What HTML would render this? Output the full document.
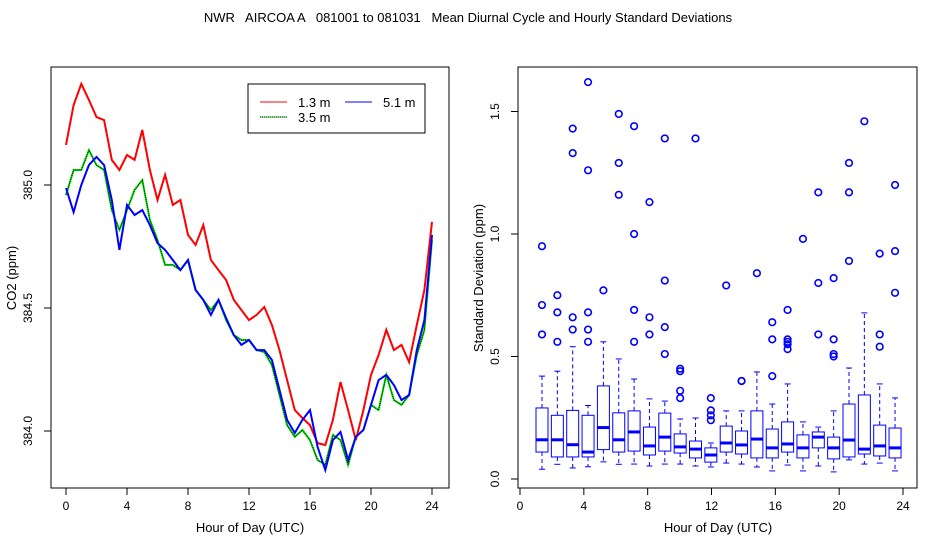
<!DOCTYPE html>
<html><head><meta charset="utf-8"><style>
body{margin:0;background:#fff}
svg{display:block;font-family:"Liberation Sans",sans-serif}
</style></head><body>
<svg id="c" width="936" height="540" viewBox="0 0 936 540">
<text x="468" y="22" font-size="13" text-anchor="middle" style="white-space:pre" xml:space="preserve">NWR   AIRCOA A   081001 to 081031   Mean Diurnal Cycle and Hourly Standard Deviations</text>
<rect x="51" y="67" width="398" height="421" fill="none" stroke="#000"/>
<rect x="518" y="67" width="399" height="421" fill="none" stroke="#000"/>
<g id="L"></g><g id="R"></g>
<g>
<rect x="248" y="84" width="177" height="49" fill="#fff" stroke="#000"/>
<line x1="260" y1="102" x2="287" y2="102" stroke="#f00"/>
<text x="298" y="107" font-size="13">1.3 m</text>
<line x1="345" y1="102" x2="372" y2="102" stroke="#00f"/>
<text x="383" y="107" font-size="13">5.1 m</text>
<line x1="260" y1="117" x2="287" y2="117" stroke="#0e0"/>
<line x1="260" y1="117" x2="287" y2="117" stroke="#000" stroke-dasharray="1,1"/>
<text x="298" y="122" font-size="13">3.5 m</text>
</g>
</svg>
<script>
const hours=[0,0.5,1,1.5,2,2.5,3,3.5,4,4.5,5,5.5,6,6.5,7,7.5,8,8.5,9,9.5,10,10.5,11,11.5,12,12.5,13,13.5,14,14.5,15,15.5,16,16.5,17,17.5,18,18.5,19,19.5,20,20.5,21,21.5,22,22.5,23,23.5,24];
const redPx=[145,105,84,100,117,120,160,170,155,160,130,170,200,175,205,200,235,245,225,260,270,280,300,310,320,315,307,325,350,380,410,418,425,443,445,420,382,410,440,410,375,355,330,350,345,362,325,290,222];
const bluePx=[188,212,185,165,157,165,200,250,205,215,210,225,243,250,260,270,260,290,300,315,300,318,335,345,340,350,350,360,390,420,433,420,410,447,470,440,432,460,437,430,405,380,375,385,400,395,350,320,235];
const greenPx=[195,170,170,150,165,170,210,230,210,190,180,220,240,265,265,270,260,290,300,310,300,320,335,340,340,350,352,365,395,425,437,430,440,460,465,435,440,465,437,430,405,410,375,400,405,395,355,330,240];
const toPpm=y=>+(385-(y-185)/246).toFixed(3);
const co2_13=redPx.map(toPpm), co2_51=bluePx.map(toPpm), co2_35=greenPx.map(toPpm);
const xTicks=[0,4,8,12,16,20,24];
const yTicksL=[384.0,384.5,385.0];
const yTicksR=[0.0,0.5,1.0,1.5];
// boxplot stats: [low whisker, Q1, median, Q3, high whisker]
const boxStats=[[0.04,0.11,0.16,0.29,0.42],[0.06,0.09,0.16,0.26,0.44],[0.045,0.09,0.14,0.28,0.54],[0.05,0.09,0.11,0.26,0.30],[0.07,0.12,0.21,0.38,0.56],[0.06,0.11,0.16,0.27,0.49],[0.061,0.114,0.192,0.278,0.408],[0.053,0.098,0.135,0.212,0.327],[0.061,0.114,0.171,0.269,0.318],[0.061,0.106,0.131,0.184,0.245],[0.053,0.086,0.122,0.155,0.249],[0.049,0.069,0.098,0.127,0.147],[0.065,0.110,0.147,0.216,0.278],[0.061,0.102,0.139,0.196,0.278],[0.049,0.086,0.163,0.278,0.437],[0.033,0.086,0.127,0.204,0.306],[0.057,0.110,0.143,0.233,0.388],[0.033,0.086,0.127,0.180,0.233],[0.053,0.127,0.171,0.192,0.212],[0.029,0.082,0.127,0.171,0.278],[0.078,0.090,0.159,0.306,0.453],[0.061,0.102,0.122,0.343,0.678],[0.065,0.094,0.135,0.220,0.388],[0.033,0.086,0.127,0.208,0.331]];
const outliers=[[0.95,0.71,0.59],[0.75,0.68,0.56],[1.43,1.33,0.66,0.61],[1.62,1.26,0.68,0.61,0.56],[0.77],[1.49,1.29,1.16],[1.44,1.0,0.69,0.56],[1.13,0.66,0.59],[1.39,0.81,0.62,0.51],[0.45,0.44,0.36,0.33],[1.39],[0.33,0.28,0.26,0.24],[0.79],[0.40,0.40],[0.84],[0.64,0.57,0.42],[0.69,0.57,0.56,0.55,0.53],[0.98],[1.17,0.80,0.59],[0.82,0.57,0.51,0.50],[1.29,1.17,0.89],[1.46],[0.92,0.59,0.54],[1.20,0.93,0.76]];
const NS="http://www.w3.org/2000/svg";
function mk(p,t,a){const e=document.createElementNS(NS,t);for(const k in a)e.setAttribute(k,a[k]);p.appendChild(e);return e;}
const xL=h=>66+h*(432-66)/24, yL=v=>185+(385-v)*246;
const xR=h=>520+h*(903-520)/24, yR=v=>479-v*245;
const xBox=i=>542+i*15.35;
const L=document.getElementById('L'), R=document.getElementById('R');
let ln=mk(L,'line',{x1:xL(0),x2:xL(24),y1:488,y2:488,stroke:'#000'});


xTicks.forEach(t=>{let e=mk(L,'line',{x1:xL(t),x2:xL(t),y1:488,y2:495,stroke:'#000'});


let tx=mk(L,'text',{x:xL(t),y:510,'font-size':12,'text-anchor':'middle'});tx.textContent=t;

});
yTicksL.forEach(t=>{let e=mk(L,'line',{x1:44,x2:51,y1:yL(t),y2:yL(t),stroke:'#000'});


let tx=mk(L,'text',{x:0,y:0,'font-size':12,'text-anchor':'middle',transform:`translate(32,${yL(t)}) rotate(-90)`});tx.textContent=t.toFixed(1);

});
let t1=mk(L,'text',{x:250,y:532,'font-size':13,'text-anchor':'middle'});t1.textContent='Hour of Day (UTC)';


let t2=mk(L,'text',{x:0,y:0,'font-size':13,'text-anchor':'middle',transform:'translate(16,278) rotate(-90)'});t2.textContent='CO2 (ppm)';


function series(vals,col,name,extra){const d=vals.map((v,i)=>(i?'L':'M')+xL(hours[i]).toFixed(1)+','+yL(v).toFixed(1)).join('');
let p=mk(L,'path',Object.assign({d:d,fill:'none',stroke:col,'stroke-width':2},extra||{}));

}
series(co2_13,'#f00','series-1-3m');
series(co2_35,'#0e0','series-3-5m');
series(co2_35,'#000','series-3-5m-dots',{'stroke-width':1,'stroke-dasharray':'1,1'});
series(co2_51,'#00f','series-5-1m');
let ra=mk(R,'line',{x1:xR(0),x2:xR(24),y1:488,y2:488,stroke:'#000'});


xTicks.forEach(t=>{let e=mk(R,'line',{x1:xR(t),x2:xR(t),y1:488,y2:495,stroke:'#000'});


let tx=mk(R,'text',{x:xR(t),y:510,'font-size':12,'text-anchor':'middle'});tx.textContent=t;

});
yTicksR.forEach(t=>{let e=mk(R,'line',{x1:511,x2:518,y1:yR(t),y2:yR(t),stroke:'#000'});


let tx=mk(R,'text',{x:0,y:0,'font-size':12,'text-anchor':'middle',transform:`translate(499,${yR(t)}) rotate(-90)`});tx.textContent=t.toFixed(1);

});
let t3=mk(R,'text',{x:718,y:532,'font-size':13,'text-anchor':'middle'});t3.textContent='Hour of Day (UTC)';


let t4=mk(R,'text',{x:0,y:0,'font-size':13,'text-anchor':'middle',transform:'translate(483,278) rotate(-90)'});t4.textContent='Standard Deviation (ppm)';


boxStats.forEach((s,i)=>{const g=mk(R,'g',{});


const x=xBox(i),w=6,st={stroke:'#00f',fill:'none'};
mk(g,'line',Object.assign({x1:x,x2:x,y1:yR(s[3]),y2:yR(s[4]),'stroke-dasharray':'4,3'},st));
mk(g,'line',Object.assign({x1:x,x2:x,y1:yR(s[1]),y2:yR(s[0]),'stroke-dasharray':'4,3'},st));
mk(g,'line',Object.assign({x1:x-3,x2:x+3,y1:yR(s[4]),y2:yR(s[4])},st));
mk(g,'line',Object.assign({x1:x-3,x2:x+3,y1:yR(s[0]),y2:yR(s[0])},st));
mk(g,'rect',Object.assign({x:x-w,y:yR(s[3]),width:2*w,height:yR(s[1])-yR(s[3])},st));
mk(g,'line',{x1:x-w,x2:x+w,y1:yR(s[2]),y2:yR(s[2]),stroke:'#00f','stroke-width':3});
outliers[i].forEach(v=>{let c=mk(g,'circle',{cx:x,cy:yR(v),r:3.3,fill:'none',stroke:'#00f','stroke-width':1.6});

});});
</script>
</body></html>
